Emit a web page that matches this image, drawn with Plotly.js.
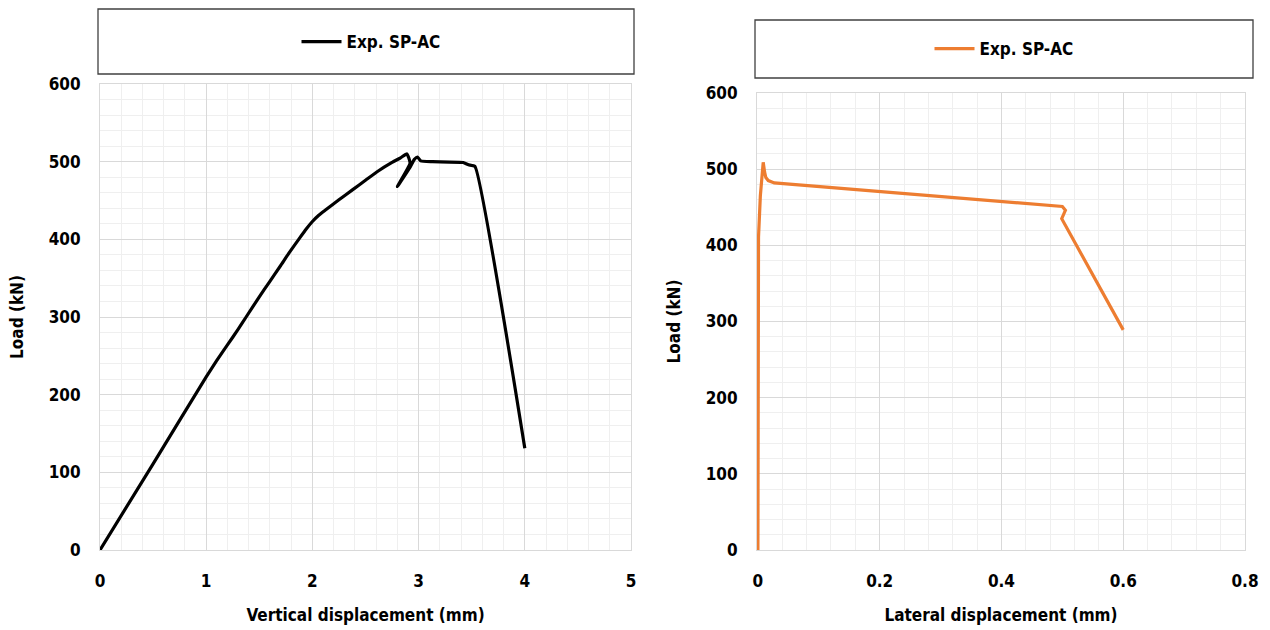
<!DOCTYPE html>
<html>
<head>
<meta charset="utf-8">
<script src="https://cdn.plot.ly/plotly-3.0.1.min.js"></script>
<style>html,body{margin:0;padding:0;background:#fff;}#chart{width:1270px;height:630px;}</style>
</head>
<body>
<div id="chart"></div>
<script>
// ---- data ----
const seriesName = "Exp. SP-AC";
// left chart: vertical displacement (mm) vs load (kN)
const vertDisp = [0, 0.5, 1.0, 1.1, 1.2, 1.3, 1.376, 1.5, 1.595, 1.7, 1.782, 1.876, 1.94, 2.0, 2.06, 2.126, 2.25, 2.38, 2.5, 2.62, 2.75, 2.83, 2.89, 2.92, 2.80, 2.92, 2.96, 2.99, 3.02, 3.13, 3.42, 3.47, 3.53, 4.0];
const vertLoad = [0, 111, 223, 244, 264, 284, 300, 326, 345, 366, 383, 401, 413, 423, 431, 438, 451, 464, 476, 488, 499, 505, 510, 498, 468, 493, 503, 506, 501, 500, 499, 496, 494, 131];
// right chart: lateral displacement (mm) vs load (kN)
const latDisp = [0, 0.0005, 0.001, 0.004, 0.0087, 0.011, 0.013, 0.017, 0.027, 0.5, 0.505, 0.499, 0.6];
const latLoad = [0, 300, 411, 465, 509, 496, 489, 485, 482, 451, 446, 435, 289];
// tick labels
const xTicksLeft = [0, 1, 2, 3, 4, 5];
const xTicksRight = [0, 0.2, 0.4, 0.6, 0.8];
const yTicks = [0, 100, 200, 300, 400, 500, 600];

const FONT = "'Liberation Sans Narrow', 'DejaVu Sans Condensed', 'Open Sans', sans-serif";
const W = 1270, H = 630;
const px = v => v / W, py = v => 1 - v / H;

const tickFont = {family: FONT, size: 17, color: '#000', weight: 'bold'};
const titleFont = {family: FONT, size: 17, color: '#000', weight: 'bold'};

function xaxisCfg(domain, ticks, minor, title, range) {
  return {
    domain: domain, range: range, tickvals: ticks, ticktext: ticks.map(String),
    showgrid: true, gridcolor: '#d9d9d9', gridwidth: 1,
    minor: {dtick: minor, showgrid: true, gridcolor: '#efefef', gridwidth: 1},
    showline: true, mirror: true, linecolor: '#d9d9d9', linewidth: 1,
    zeroline: false, ticks: '', ticklabelstandoff: 16,
    tickfont: tickFont, title: {text: '<b>' + title + '</b>', font: titleFont, standoff: 18},
    fixedrange: true
  };
}
function yaxisCfg(domain, anchor) {
  return {
    domain: domain, range: [0, 600], anchor: anchor, tickvals: yTicks, ticktext: yTicks.map(String),
    showgrid: true, gridcolor: '#d9d9d9', gridwidth: 1,
    minor: {dtick: 20, showgrid: true, gridcolor: '#efefef', gridwidth: 1},
    showline: true, mirror: true, linecolor: '#d9d9d9', linewidth: 1,
    zeroline: false, ticks: '', ticklabelstandoff: 15,
    tickfont: tickFont, title: {text: '<b>Load (kN)</b>', font: titleFont, standoff: 20},
    fixedrange: true
  };
}

const traces = [
  {x: vertDisp, y: vertLoad, type: 'scatter', mode: 'lines', name: seriesName,
   line: {color: '#000000', width: 3.2, shape: 'spline', smoothing: 0.4}, xaxis: 'x', yaxis: 'y', legend: 'legend'},
  {x: latDisp, y: latLoad, type: 'scatter', mode: 'lines', name: seriesName,
   line: {color: '#ED7D31', width: 3.2}, xaxis: 'x2', yaxis: 'y2', legend: 'legend2'}
];

const layout = {
  width: W, height: H,
  margin: {l: 0, r: 0, t: 0, b: 0},
  paper_bgcolor: '#ffffff', plot_bgcolor: '#ffffff',
  font: {family: FONT, color: '#000'},
  xaxis: xaxisCfg([px(100), px(631)], xTicksLeft, 0.2, 'Vertical displacement (mm)', [0, 5]),
  yaxis: yaxisCfg([py(550), py(84)], 'x'),
  xaxis2: xaxisCfg([px(757), px(1245)], xTicksRight, 0.04, 'Lateral displacement (mm)', [-0.0015, 0.8]),
  yaxis2: yaxisCfg([py(550), py(93)], 'x2'),
  legend: {x: px(371), y: py(42), xanchor: 'center', yanchor: 'middle', bgcolor: 'rgba(0,0,0,0)',
           font: {family: FONT, size: 17, color: '#000', weight: 'bold'}, itemwidth: 40},
  legend2: {x: px(1004), y: py(49), xanchor: 'center', yanchor: 'middle', bgcolor: 'rgba(0,0,0,0)',
           font: {family: FONT, size: 17, color: '#000', weight: 'bold'}, itemwidth: 40},
  shapes: [
    {type: 'rect', xref: 'paper', yref: 'paper', x0: px(98), x1: px(634), y0: py(74), y1: py(9),
     line: {color: '#404040', width: 1.3}, fillcolor: 'rgba(0,0,0,0)'},
    {type: 'rect', xref: 'paper', yref: 'paper', x0: px(755), x1: px(1253), y0: py(78), y1: py(20),
     line: {color: '#404040', width: 1.3}, fillcolor: 'rgba(0,0,0,0)'}
  ],
  showlegend: true
};
layout.xaxis.anchor = 'y';
layout.xaxis2.anchor = 'y2';

Plotly.newPlot('chart', traces, layout, {displayModeBar: false, staticPlot: true});
</script>
</body>
</html>
